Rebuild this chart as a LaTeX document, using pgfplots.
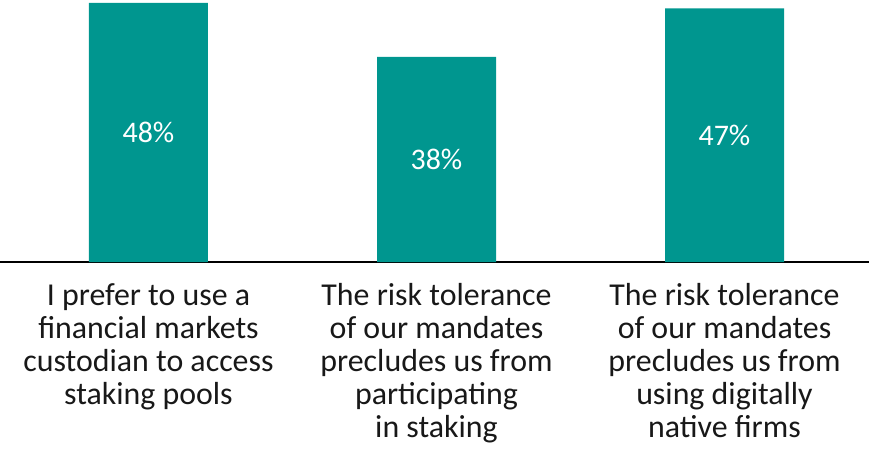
\documentclass[border=0pt]{standalone}
\usepackage{pgfplots}
\pgfplotsset{compat=1.18}
\usepackage{fontspec}
\setmainfont{Carlito}
\definecolor{barteal}{RGB}{0,150,143}
\definecolor{labelgray}{RGB}{24,24,24}
\begin{document}
\begin{tikzpicture}
\begin{axis}[
  name=main,
  width=869bp, height=262bp, scale only axis,
  xmin=-0.5156, xmax=2.5017, ymin=0, ymax=48.55,
  clip=false,
  /pgf/number format/assume math mode=true,
  axis y line=none,
  axis x line*=bottom,
  x axis line style={black, line width=1.3bp, -},
  xtick={0,1,2}, major tick length=0pt,
  xticklabels={
    {I prefer to use a\\financial markets\\custodian to access\\staking pools},
    {The risk tolerance\\of our mandates\\precludes us from\\participating\\in staking},
    {The risk tolerance\\of our mandates\\precludes us from\\using digitally\\native firms}},
  xticklabel style={align=center, font=\fontsize{32}{33}\selectfont,
    text=labelgray, anchor=north, inner sep=0pt, yshift=-21.5bp},
  ybar, bar width=119bp,
]
\addplot[fill=barteal, draw=none,
  nodes near coords={\pgfmathprintnumber{\pgfplotspointmeta}\%},
  visualization depends on=y \as \rawy,
  every node near coord/.append style={anchor=center,
    shift={(axis direction cs:0,-\rawy/2)}, text=white,
    font=\fontsize{30}{30}\selectfont}]
  coordinates {(0,48) (1,38) (2,47)};
\end{axis}
\pgfresetboundingbox
\path (main.south west) ++(0,-203bp) rectangle (main.north east);
\end{tikzpicture}
\end{document}
